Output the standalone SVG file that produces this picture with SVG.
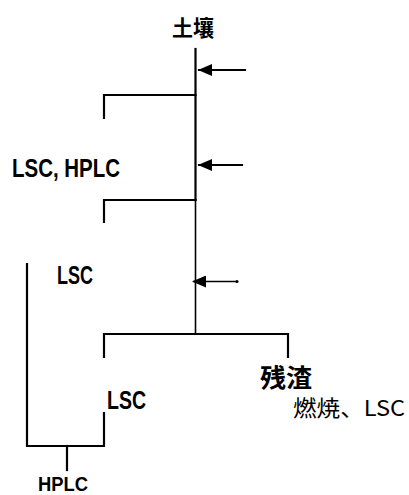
<svg xmlns="http://www.w3.org/2000/svg" width="409" height="495" viewBox="0 0 409 495">
<style>
.ln{stroke:#000;stroke-width:2.2;fill:none;stroke-linecap:square}
.thin{stroke:#000;stroke-width:1.6;fill:none}
.t{font-family:"Liberation Sans","Noto Sans CJK JP",sans-serif;fill:#000;font-weight:bold}
.cjk{font-family:"Noto Sans CJK JP","Liberation Sans",sans-serif;fill:#000}
</style>
<defs>
<marker id="ah" viewBox="0 0 14 12" refX="13" refY="6" markerWidth="14" markerHeight="12" markerUnits="userSpaceOnUse" orient="auto">
<path d="M14,6 L0,0 L0,12 Z" fill="#000"/>
</marker>
</defs>
<rect width="409" height="495" fill="#fff"/>
<g id="connectors">
<path class="ln" d="M195.5,49 V200"/>
<path class="thin" d="M195.5,200 V333"/>
<path class="ln" d="M104,118 V95 H195.5"/>
<path class="ln" d="M104,222 V200 H195.5"/>
<path class="ln" d="M104,357 V334 H288 V357"/>
<path class="ln" d="M104,413 V446 H27 V264"/>
<path class="ln" d="M67,446 V470"/>
<line class="ln" x1="245" y1="70" x2="199" y2="70" marker-end="url(#ah)"/>
<line class="ln" x1="242" y1="165" x2="199" y2="165" marker-end="url(#ah)"/>
<line class="thin" x1="237" y1="281.5" x2="193" y2="281.5" marker-end="url(#ah)"/>
<circle cx="237" cy="281.5" r="1.6" fill="#000"/>
</g>
<g id="soil"><text class="cjk" x="172" y="36" font-size="22" font-weight="bold" textLength="42" lengthAdjust="spacingAndGlyphs">土壤</text></g>
<g id="extract1"><text class="t" x="12" y="177" font-size="25" textLength="108" lengthAdjust="spacingAndGlyphs">LSC, HPLC</text></g>
<g id="extract2"><text class="t" x="57" y="284" font-size="26" textLength="36" lengthAdjust="spacingAndGlyphs">LSC</text></g>
<g id="residue">
<text class="cjk" x="260" y="387" font-size="25" font-weight="bold" textLength="52" lengthAdjust="spacingAndGlyphs">残渣</text>
<text class="cjk" x="293" y="416" font-size="22" textLength="112" lengthAdjust="spacingAndGlyphs">燃焼、LSC</text>
</g>
<g id="extract3"><text class="t" x="107" y="409" font-size="26" textLength="39" lengthAdjust="spacingAndGlyphs">LSC</text></g>
<g id="hplc"><text class="t" x="38" y="491" font-size="21" textLength="50" lengthAdjust="spacingAndGlyphs">HPLC</text></g>
</svg>
